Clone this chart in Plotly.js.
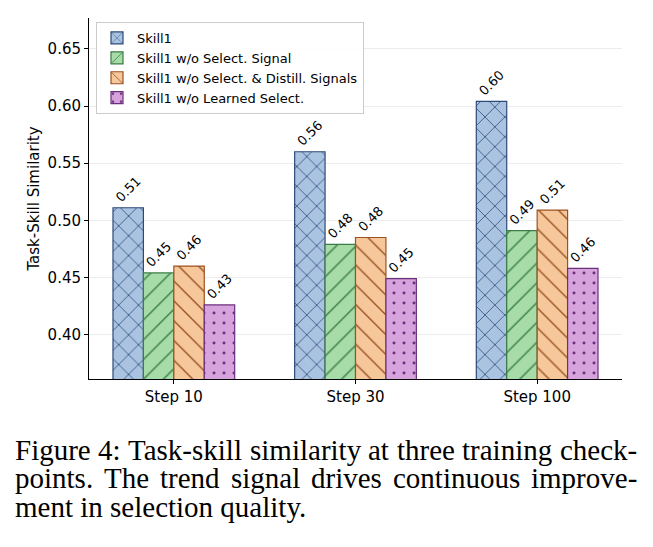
<!DOCTYPE html>
<html>
<head>
<meta charset="utf-8">
<script src="https://cdn.plot.ly/plotly-3.0.1.min.js"></script>
<style>html,body{margin:0;padding:0;background:#fff;}#chart{width:653px;height:547px;}</style>
</head>
<body>
<div id="chart"></div>
<script>
const categories = ["Step 10", "Step 30", "Step 100"];
const seriesNames = ["Skill1", "Skill1 w/o Select. Signal", "Skill1 w/o Select. & Distill. Signals", "Skill1 w/o Learned Select."];
const skill1 = [0.511, 0.560, 0.604];
const noSelect = [0.454, 0.479, 0.491];
const noSelectDistill = [0.460, 0.485, 0.509];
const noLearned = [0.426, 0.449, 0.458];
const yTicks = [0.40, 0.45, 0.50, 0.55, 0.60, 0.65];
const captionLines = [
  "Figure 4: Task-skill similarity at three training check-",
  "points. The trend signal drives continuous improve-",
  "ment in selection quality."
];
const captionJustified = [true, true, false];

const allValues = [skill1, noSelect, noSelectDistill, noLearned];
const fills = ["#a9c3e1", "#a7dca8", "#f6c79b", "#d7a3dc"];
const edges = ["#2e4a78", "#3b7d45", "#9a5222", "#6b2f7d"];
const shapes = ["x", "/", "\\", "."];
const sizes = [14, 14, 14, 10];
const solid = [0.11, 0.1, 0.1, 0.07];

const traces = allValues.map((vals, i) => ({
  type: "bar",
  name: seriesNames[i],
  x: categories,
  y: vals,
  text: vals.map(v => v.toFixed(2)),
  textposition: "outside",
  textangle: -45,
  cliponaxis: false,
  textfont: {family: "DejaVu Sans", size: 13, color: "#000"},
  marker: {
    color: fills[i],
    line: {color: edges[i], width: 1.2},
    pattern: {shape: shapes[i], fgcolor: edges[i], bgcolor: fills[i], size: sizes[i], solidity: solid[i], fillmode: "replace"}
  }
}));

const plotTop = 18, plotBottom = 379, plotLeft = 89, plotRight = 622;
const ph = plotBottom - plotTop, pw = plotRight - plotLeft;
const capY = [449.5, 478, 506.5];
const capLeft = 15, capRight = 637, capSize = 29, capFamily = "Liberation Serif";
const measureCtx = document.createElement("canvas").getContext("2d");
measureCtx.font = capSize + "px '" + capFamily + "'";
const annotations = [];
captionLines.forEach((line, i) => {
  const yP = (plotBottom - capY[i]) / ph;
  const base = {xref: "paper", yref: "paper", yanchor: "middle", xanchor: "left", showarrow: false,
    borderpad: 0, borderwidth: 0,
    font: {family: capFamily, size: capSize, color: "#000"}};
  if (!captionJustified[i]) {
    annotations.push(Object.assign({}, base, {text: line, x: (capLeft - plotLeft) / pw, y: yP}));
    return;
  }
  const words = line.split(" ");
  const widths = words.map(w => measureCtx.measureText(w).width);
  const total = widths.reduce((a, b) => a + b, 0);
  const gap = (capRight - capLeft - total) / (words.length - 1);
  let px = capLeft;
  words.forEach((w, k) => {
    annotations.push(Object.assign({}, base, {text: w, x: (px - plotLeft) / pw, y: yP}));
    px += widths[k] + gap;
  });
});

const layout = {
  width: 653, height: 547,
  margin: {l: plotLeft, r: 653 - plotRight, t: plotTop, b: 547 - plotBottom},
  paper_bgcolor: "#fff", plot_bgcolor: "#fff",
  barmode: "group", bargap: 0.33, bargroupgap: 0,
  font: {family: "DejaVu Sans", size: 15, color: "#000"},
  xaxis: {
    type: "category", range: [-0.467, 2.467],
    showline: true, linecolor: "#000", linewidth: 1,
    ticks: "outside", ticklen: 4, tickcolor: "#000",
    showgrid: false, zeroline: false,
    tickfont: {family: "DejaVu Sans", size: 15}
  },
  yaxis: {
    range: [0.3612, 0.677],
    tickvals: yTicks, ticktext: yTicks.map(v => v.toFixed(2)),
    showline: true, linecolor: "#000", linewidth: 1,
    ticks: "outside", ticklen: 4, tickcolor: "#000",
    showgrid: true, gridcolor: "#ececec", gridwidth: 1, zeroline: false,
    tickfont: {family: "DejaVu Sans", size: 15},
    title: {text: "Task-Skill Similarity", font: {family: "DejaVu Sans", size: 15}, standoff: 4}
  },
  legend: {
    x: (96 - plotLeft) / pw, y: (plotBottom - 22) / ph, xanchor: "left", yanchor: "top",
    bgcolor: "rgba(255,255,255,0.9)", bordercolor: "#cccccc", borderwidth: 1,
    font: {family: "DejaVu Sans", size: 13}, tracegroupgap: 0
  },
  annotations: annotations,
  showlegend: true
};

Plotly.newPlot("chart", traces, layout, {displayModeBar: false, staticPlot: true});
</script>
</body>
</html>
